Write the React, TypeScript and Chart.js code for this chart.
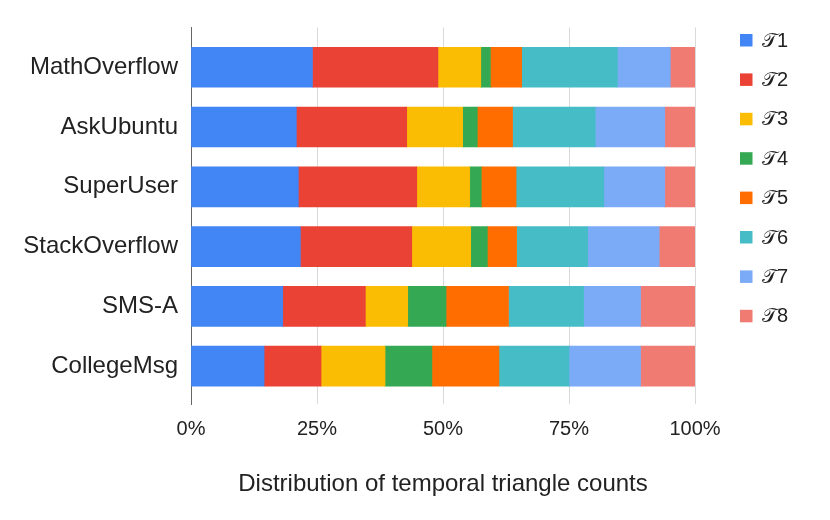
import React, { useEffect, useRef } from "react";
import { Chart, registerables } from "chart.js";

Chart.register(...registerables);

const categories = ["MathOverflow", "AskUbuntu", "SuperUser", "StackOverflow", "SMS-A", "CollegeMsg"];
const seriesLabels = ["\u{1D4AF}1", "\u{1D4AF}2", "\u{1D4AF}3", "\u{1D4AF}4", "\u{1D4AF}5", "\u{1D4AF}6", "\u{1D4AF}7", "\u{1D4AF}8"];
const t1 = [24.1, 20.9, 21.3, 21.7, 18.2, 14.5];
const t2 = [24.9, 21.9, 23.5, 22.1, 16.4, 11.3];
const t3 = [8.5, 11.1, 10.5, 11.7, 8.4, 12.7];
const t4 = [1.9, 2.9, 2.3, 3.3, 7.6, 9.3];
const t5 = [6.2, 7.0, 6.9, 5.8, 12.4, 13.3];
const t6 = [19.0, 16.4, 17.4, 14.1, 14.9, 13.9];
const t7 = [10.5, 13.8, 12.1, 14.2, 11.3, 14.2];
const t8 = [4.9, 6.0, 6.0, 7.1, 10.8, 10.8];
const seriesValues = [t1, t2, t3, t4, t5, t6, t7, t8];
const xTickValues = [0, 25, 50, 75, 100];
const xTitle = "Distribution of temporal triangle counts";
const colors = ["#4285F4", "#EA4335", "#FBBC04", "#34A853", "#FF6D01", "#46BDC6", "#7BAAF7", "#F07B72"];

const FONT = '"Liberation Sans", Arial, sans-serif';

const legendPlugin = {
  id: "sideLegend",
  afterDraw(chart: any) {
    const ctx = chart.ctx;
    ctx.save();
    chart.data.datasets.forEach((ds: any, i: number) => {
      const cy = 40 + i * 39.4;
      ctx.fillStyle = ds.backgroundColor;
      ctx.fillRect(740, cy - 6, 12.5, 12.5);
      ctx.fillStyle = "#222222";
      ctx.font = `20px ${FONT}`;
      ctx.textAlign = "left";
      ctx.textBaseline = "middle";
      ctx.fillText(ds.label, 762, cy + 1);
    });
    ctx.restore();
  },
};

export default function App() {
  const ref = useRef<HTMLCanvasElement | null>(null);

  useEffect(() => {
    if (!ref.current) return;
    const chart = new Chart(ref.current, {
      type: "bar",
      data: {
        datasets: seriesValues.map((vals, s) => ({
          label: seriesLabels[s],
          data: categories.map((_, i) => ({ x: vals[i], y: i })),
          backgroundColor: colors[s],
          borderWidth: 0,
          barThickness: 40,
        })),
      },
      options: {
        animation: false,
        responsive: false,
        indexAxis: "y",
        layout: { padding: { top: 26, right: 135, left: 0, bottom: 0 } },
        plugins: {
          legend: { display: false },
          tooltip: { enabled: false },
        },
        scales: {
          x: {
            type: "linear",
            stacked: true,
            min: 0,
            max: 100,
            offset: false,
            afterBuildTicks: (scale: any) => {
              scale.ticks = xTickValues.map((v) => ({ value: v }));
            },
            afterFit: (scale: any) => {
              scale.height = 116;
            },
            ticks: {
              callback: (v: any) => `${v}%`,
              font: { size: 20, family: FONT },
              color: "#222222",
              padding: 13,
            },
            grid: {
              drawTicks: false,
              offset: false,
              color: (c: any) => (c.tick && c.tick.value === 0 ? "rgba(0,0,0,0)" : "#d9d9d9"),
              lineWidth: 1,
            },
            border: { display: false },
            title: {
              display: true,
              text: xTitle,
              font: { size: 24, family: FONT },
              color: "#222222",
              padding: { top: 0, bottom: 21 },
            },
          },
          y: {
            type: "linear",
            stacked: true,
            reverse: true,
            offset: false,
            min: -40 / 60,
            max: 5 + 38 / 60,
            afterBuildTicks: (scale: any) => {
              scale.ticks = categories.map((_, i) => ({ value: i }));
            },
            afterFit: (scale: any) => {
              scale.width = 191;
            },
            ticks: {
              callback: (v: any) => categories[Math.round(Number(v))] ?? "",
              font: { size: 24, family: FONT },
              color: "#222222",
              padding: 13,
            },
            grid: { display: false, drawTicks: false, offset: false },
            border: { display: true, color: "#666666", width: 1 },
          },
        },
      } as any,
      plugins: [legendPlugin],
    });
    return () => chart.destroy();
  }, []);

  return (
    <div style={{ position: "fixed", left: 0, top: 0, width: 830, height: 520, background: "#ffffff" }}>
      <canvas ref={ref} width={830} height={520} style={{ display: "block" }} />
    </div>
  );
}
